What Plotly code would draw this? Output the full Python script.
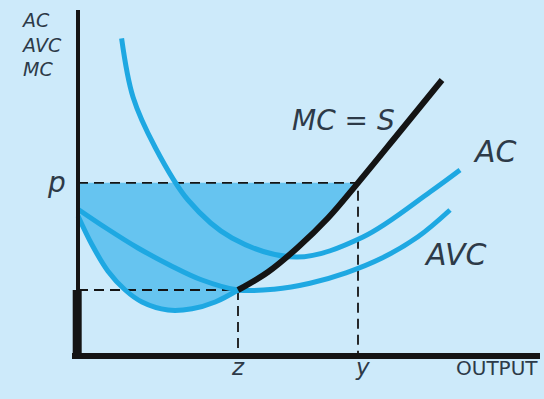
import plotly.graph_objects as go

# Cost curves (output q, cost per unit)
mc_q = [0.0, 0.35, 0.75, 1.18, 1.6, 2.25, 2.85, 3.43, 4.0,
        4.75, 5.5, 6.25, 7.0, 8.0, 9.1]
mc_c = [3.5, 2.78, 2.12, 1.65, 1.35, 1.15, 1.18, 1.35, 1.65,
        2.1, 2.72, 3.45, 4.33, 5.55, 6.9]

avc_q = [0.0, 0.7, 1.5, 2.3, 3.1, 4.0, 4.9, 5.8, 6.7, 7.6, 8.5, 9.3]
avc_c = [3.67, 3.2, 2.7, 2.27, 1.9, 1.65, 1.67, 1.82, 2.08, 2.45, 2.98, 3.65]

ac_q = [1.09, 1.375, 1.925, 2.75, 3.85, 5.475, 7.125, 8.8, 9.55]
ac_c = [7.94, 6.475, 5.225, 3.9, 2.95, 2.475, 2.975, 4.1, 4.65]

# Market price p, shutdown output z, supplied output y
price_p = 4.33
q_z = 4.0
q_y = 7.0
min_avc = 1.65

BG = "rgb(205,234,250)"
FILL = "rgb(102,196,240)"
CURVE = "rgb(30,168,226)"
INK = "rgb(20,20,20)"
TEXT = "rgb(45,58,72)"
FONT = "DejaVu Sans"

fig = go.Figure()

# Shaded surplus between price line and MC
iz = mc_q.index(q_z)
iy = mc_q.index(q_y)
fig.add_trace(go.Scatter(x=mc_q[:iy + 1], y=mc_c[:iy + 1], mode="lines",
                         line=dict(width=0, shape="spline"), hoverinfo="skip"))
fig.add_trace(go.Scatter(x=[0, q_y], y=[price_p, price_p], mode="lines",
                         line=dict(width=0), fill="tonexty", fillcolor=FILL,
                         hoverinfo="skip"))

# Dashed guide lines
dash = dict(color=INK, width=1.8, dash="10px,6px")
fig.add_trace(go.Scatter(x=[0, q_y, q_y], y=[price_p, price_p, 0], mode="lines", line=dash))
fig.add_trace(go.Scatter(x=[0, q_z, q_z], y=[min_avc, min_avc, 0], mode="lines", line=dash))

# AC and AVC
fig.add_trace(go.Scatter(x=ac_q, y=ac_c, mode="lines",
                         line=dict(color=CURVE, width=5, shape="spline")))
fig.add_trace(go.Scatter(x=avc_q, y=avc_c, mode="lines",
                         line=dict(color=CURVE, width=5, shape="spline")))

# MC: blue below shutdown point, black (supply) above
fig.add_trace(go.Scatter(x=mc_q[:iz + 1], y=mc_c[:iz + 1], mode="lines",
                         line=dict(color=CURVE, width=5, shape="spline")))
fig.add_trace(go.Scatter(x=mc_q[iz:], y=mc_c[iz:], mode="lines",
                         line=dict(color=INK, width=6, shape="spline")))

# Axes, with the vertical supply segment below min AVC
fig.add_trace(go.Scatter(x=[0, 0], y=[-0.05, 8.65], mode="lines",
                         line=dict(color=INK, width=4)))
fig.add_trace(go.Scatter(x=[-0.02, -0.02], y=[-0.05, min_avc], mode="lines",
                         line=dict(color=INK, width=9)))
fig.add_trace(go.Scatter(x=[-0.15, 11.55], y=[0, 0], mode="lines",
                         line=dict(color=INK, width=6)))

def label(x, y, text, size, italic=True, xanchor="center", yanchor="middle", align="center"):
    fig.add_annotation(x=x, y=y, xref="x", yref="y", showarrow=False,
                       text=f"<i>{text}</i>" if italic else text,
                       font=dict(family=FONT, size=size, color=TEXT),
                       xanchor=xanchor, yanchor=yanchor, align=align)

label(-1.47, 7.8, "AC<br>AVC<br>MC", 19, xanchor="left", align="left")
label(-0.53, 4.35, "p", 28)
label(q_z, -0.28, "z", 23)
label(q_y + 0.1, -0.28, "y", 23)
label(11.55, -0.3, "OUTPUT", 20, italic=False, xanchor="right")
label(6.63, 5.9, "MC = S", 28)
label(10.43, 5.11, "AC", 30)
label(9.43, 2.55, "AVC", 30)

fig.update_layout(
    width=544, height=399, margin=dict(l=0, r=0, t=0, b=0),
    paper_bgcolor=BG, plot_bgcolor=BG, showlegend=False,
    xaxis=dict(range=[-1.95, 11.65], visible=False, fixedrange=True),
    yaxis=dict(range=[-1.075, 8.9], visible=False, fixedrange=True),
)

fig.write_html("out.html")
